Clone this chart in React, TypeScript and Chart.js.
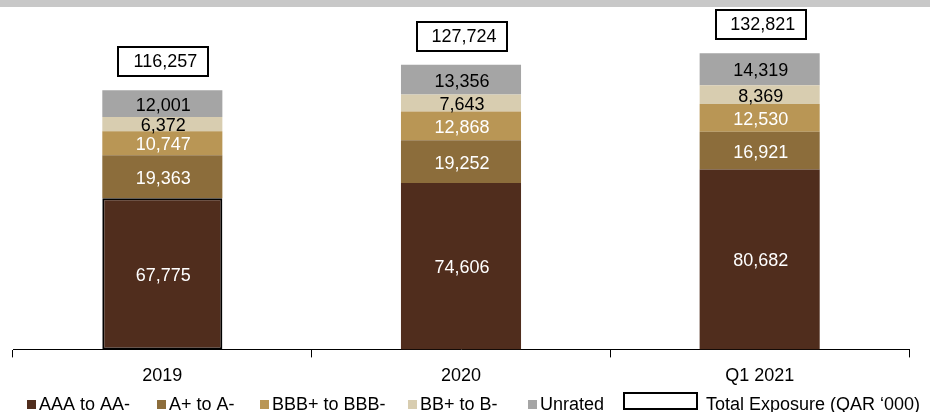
import React, { useEffect, useRef } from "react";
import { Chart, registerables } from "chart.js";

Chart.register(...registerables);

const categories = ["2019", "2020", "Q1 2021"];
const seriesNames = ["AAA to AA-", "A+ to A-", "BBB+ to BBB-", "BB+ to B-", "Unrated"];
const aaaToAAminus = [67775, 74606, 80682];
const aPlusToAminus = [19363, 19252, 16921];
const bbbPlusToBBBminus = [10747, 12868, 12530];
const bbPlusToBminus = [6372, 7643, 8369];
const unrated = [12001, 13356, 14319];
const totalExposure = [116257, 127724, 132821];
const totalLabel = "Total Exposure (QAR \u2018000)";

const FONT = "'Liberation Sans', Arial, sans-serif";
const seriesColors = ["#502d1d", "#8c6d3b", "#b99655", "#d8cdb0", "#a5a5a5"];
const labelColors = ["#ffffff", "#ffffff", "#ffffff", "#000000", "#000000"];
const legendLeft = [27, 157, 260, 408, 528];

const fmt = (v: number) => v.toLocaleString("en-US");

const labelsPlugin = {
  id: "customLabels",
  beforeDraw(chart: any) {
    const ctx = chart.ctx;
    ctx.save();
    ctx.fillStyle = "#c8c8c8";
    ctx.fillRect(0, 0, chart.width, 7);
    ctx.restore();
  },
  afterDatasetsDraw(chart: any) {
    const ctx = chart.ctx;
    ctx.save();
    ctx.font = `18px ${FONT}`;
    ctx.textAlign = "center";
    ctx.textBaseline = "middle";
    chart.data.datasets.forEach((ds: any, di: number) => {
      const meta = chart.getDatasetMeta(di);
      meta.data.forEach((el: any, i: number) => {
        const { x, y, base } = el.getProps(["x", "y", "base"], true);
        ctx.fillStyle = labelColors[di];
        ctx.fillText(fmt(ds.data[i]), x + 1, (y + base) / 2 + 2);
      });
    });
    const xs = chart.scales.x;
    const ys = chart.scales.y;
    totalExposure.forEach((t, i) => {
      const cx = xs.getPixelForValue(i);
      const top = ys.getPixelForValue(t);
      const bw = 90;
      const bh = 29;
      const bottom = Math.round(top - 14);
      const left = Math.round(cx - bw / 2) + 1;
      ctx.fillStyle = "#ffffff";
      ctx.fillRect(left, bottom - bh, bw, bh);
      ctx.strokeStyle = "#000000";
      ctx.lineWidth = 2;
      ctx.strokeRect(left, bottom - bh, bw, bh);
      ctx.fillStyle = "#000000";
      ctx.fillText(fmt(t), cx + 3, bottom - bh / 2 + 1);
    });
    ctx.restore();
  },
  afterDraw(chart: any) {
    const ctx = chart.ctx;
    ctx.save();
    ctx.font = `18px ${FONT}`;
    ctx.textAlign = "left";
    ctx.textBaseline = "alphabetic";
    chart.data.datasets.forEach((ds: any, i: number) => {
      ctx.fillStyle = ds.backgroundColor;
      ctx.fillRect(legendLeft[i], 400, 9, 9);
      ctx.fillStyle = "#000000";
      ctx.fillText(ds.label, legendLeft[i] + 12, 410);
    });
    ctx.strokeStyle = "#000000";
    ctx.lineWidth = 2;
    ctx.strokeRect(624, 393, 73, 16);
    ctx.fillStyle = "#000000";
    ctx.fillText(totalLabel, 706, 410);
    ctx.restore();
  },
};

export default function App() {
  const ref = useRef<HTMLCanvasElement | null>(null);
  useEffect(() => {
    if (!ref.current) return;
    const seriesData = [aaaToAAminus, aPlusToAminus, bbbPlusToBBBminus, bbPlusToBminus, unrated];
    const chart = new Chart(ref.current, {
      type: "bar",
      data: {
        labels: categories,
        datasets: seriesNames.map((name, i) => ({
          label: name,
          data: seriesData[i],
          backgroundColor: seriesColors[i],
          borderColor: (c: any) => (i === 0 && c.dataIndex === 0 ? "#000000" : seriesColors[i]),
          borderWidth: (c: any) => (i === 0 && c.dataIndex === 0 ? 2 : 0),
          borderSkipped: false,
          barPercentage: 0.402,
          categoryPercentage: 1,
        })),
      },
      options: {
        animation: false,
        responsive: false,
        layout: { padding: { left: 13, right: 21, top: 15, bottom: 17 } },
        plugins: { legend: { display: false }, tooltip: { enabled: false } },
        scales: {
          x: {
            stacked: true,
            grid: {
              display: true,
              drawOnChartArea: false,
              drawTicks: true,
              tickLength: 8,
              color: "#000000",
              offset: true,
            },
            border: { display: true, color: "#000000", width: 1 },
            ticks: { color: "#000000", font: { size: 18, family: FONT }, padding: 8 },
          },
          y: { stacked: true, display: false, min: 0, max: 150000 },
        },
      },
      plugins: [labelsPlugin],
    } as any);
    return () => chart.destroy();
  }, []);
  return (
    <div style={{ position: "absolute", left: 0, top: 0, width: 930, height: 412, background: "#fff" }}>
      <canvas ref={ref} width={930} height={412} />
    </div>
  );
}
